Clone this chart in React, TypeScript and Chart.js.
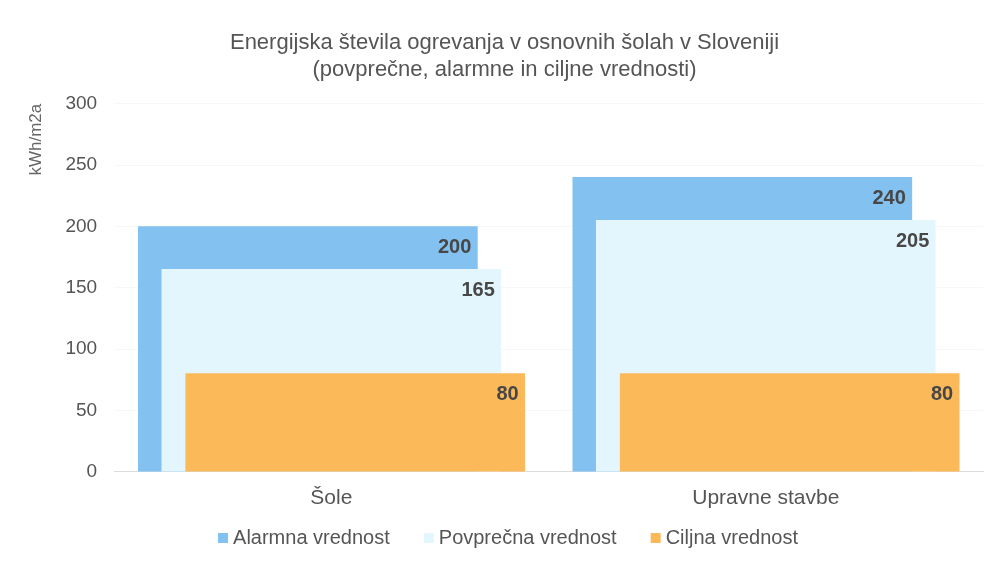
import React, { useEffect, useRef } from "react";
import { Chart, registerables } from "chart.js";

Chart.register(...registerables);

const categories = ["Šole", "Upravne stavbe"];
const seriesNames = ["Alarmna vrednost", "Povprečna vrednost", "Ciljna vrednost"];
const alarmna = [200, 240];
const povprecna = [165, 205];
const ciljna = [80, 80];
const yTicks = [0, 50, 100, 150, 200, 250, 300];
const titleLines = [
  "Energijska števila ogrevanja v osnovnih šolah v Sloveniji",
  "(povprečne, alarmne in ciljne vrednosti)",
];
const yTitle = "kWh/m2a";

const colors = ["#82c1f0", "#e4f6fd", "#fcb95a"];
const shifts = [-0.054, 0, 0.055];
const FONT = "'Liberation Sans', Arial, sans-serif";

const valueLabels = {
  id: "valueLabels",
  afterDatasetsDraw(chart: any) {
    const ctx = chart.ctx;
    ctx.save();
    ctx.font = "bold 20px " + FONT;
    ctx.fillStyle = "#474747";
    ctx.textAlign = "right";
    ctx.textBaseline = "middle";
    chart.data.datasets.forEach((ds: any, i: number) => {
      const meta = chart.getDatasetMeta(i);
      meta.data.forEach((el: any, j: number) => {
        const v = ds.data[j].y;
        ctx.fillText(String(v), el.x + el.width / 2 - 6, el.y + 21);
      });
    });
    ctx.restore();
  },
};

const bottomLegend = {
  id: "bottomLegend",
  afterDraw(chart: any) {
    const ctx = chart.ctx;
    ctx.save();
    ctx.font = "20px " + FONT;
    ctx.textBaseline = "middle";
    ctx.textAlign = "left";
    const box = 10;
    const gapBox = 5;
    const gapItem = 34;
    const widths = seriesNames.map((n) => ctx.measureText(n).width);
    const total =
      widths.reduce((a, w) => a + box + gapBox + w, 0) + gapItem * (seriesNames.length - 1);
    let x = 508 - total / 2;
    const y = 538;
    seriesNames.forEach((n, i) => {
      ctx.fillStyle = colors[i];
      ctx.fillRect(x, y - box / 2, box, box);
      x += box + gapBox;
      ctx.fillStyle = "#555555";
      ctx.fillText(n, x, y);
      x += widths[i] + gapItem;
    });
    ctx.restore();
  },
};

export default function App() {
  const ref = useRef<HTMLCanvasElement>(null);
  useEffect(() => {
    document.body.style.margin = "0";
    const series = [alarmna, povprecna, ciljna];
    const chart = new Chart(ref.current!, {
      type: "bar",
      data: {
        datasets: series.map((vals, i) => ({
          label: seriesNames[i],
          data: vals.map((v, j) => ({ x: j + shifts[i], y: v })),
          backgroundColor: colors[i],
          borderWidth: 0,
          barThickness: 339,
          grouped: false,
          order: 3 - i,
        })),
      },
      options: {
        animation: false,
        responsive: false,
        maintainAspectRatio: false,
        layout: { padding: { left: 26, right: 12, top: 12, bottom: 37 } },
        plugins: {
          title: {
            display: true,
            text: titleLines,
            color: "#555555",
            font: { family: FONT, size: 22, weight: "normal", lineHeight: 1.2 },
            padding: { top: 18, bottom: 21 },
          },
          legend: { display: false },
          tooltip: { enabled: false },
        },
        scales: {
          x: {
            type: "linear",
            min: -0.5,
            max: 1.5,
            offset: false,
            grid: { display: false, drawTicks: false },
            border: { display: true, color: "#dcdcdc" },
            afterBuildTicks: (axis: any) => {
              axis.ticks = categories.map((_, i) => ({ value: i }));
            },
            ticks: {
              color: "#555555",
              font: { family: FONT, size: 21 },
              padding: 14,
              callback: (v: any) => categories[Math.round(Number(v))] ?? "",
            },
          },
          y: {
            min: 0,
            max: 300,
            afterBuildTicks: (axis: any) => {
              axis.ticks = yTicks.map((v) => ({ value: v }));
            },
            grid: { color: "rgba(0,0,0,0.03)", drawTicks: false },
            border: { display: false },
            ticks: {
              color: "#555555",
              font: { family: FONT, size: 19 },
              padding: 17,
            },
            title: {
              display: true,
              text: yTitle,
              align: "end",
              color: "#666666",
              font: { family: FONT, size: 17 },
              padding: { top: 0, bottom: 2 },
            },
          },
        },
      },
      plugins: [valueLabels, bottomLegend],
    } as any);
    return () => chart.destroy();
  }, []);
  return <canvas ref={ref} width={995} height={562} style={{ display: "block" }} />;
}
